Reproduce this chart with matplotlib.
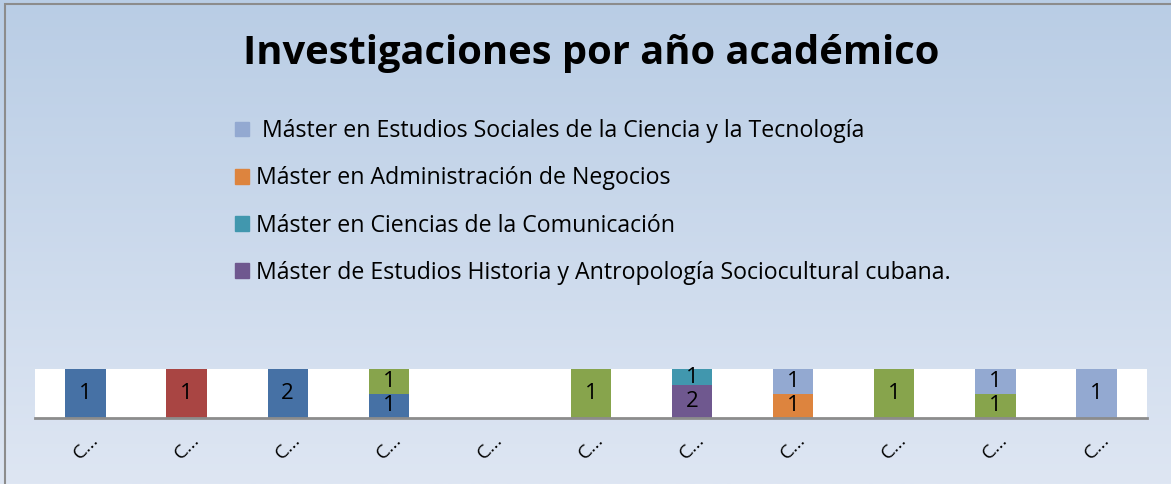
import numpy as np
import matplotlib
matplotlib.use("Agg")
import matplotlib.pyplot as plt
from matplotlib.patches import Patch, Rectangle

plt.rcParams['font.family'] = ['Open Sans', 'DejaVu Sans']

# categorias (etiquetas truncadas tal como aparecen)
categorias = ["C…"] * 11

# series (orden de apilado, de abajo hacia arriba)
serie_azul = [1, 0, 2, 1, 0, 0, 0, 0, 0, 0, 0]
serie_roja = [0, 1, 0, 0, 0, 0, 0, 0, 0, 0, 0]
serie_verde = [0, 0, 0, 1, 0, 1, 0, 0, 1, 1, 0]
historia = [0, 0, 0, 0, 0, 0, 2, 0, 0, 0, 0]
comunicacion = [0, 0, 0, 0, 0, 0, 1, 0, 0, 0, 0]
negocios = [0, 0, 0, 0, 0, 0, 0, 1, 0, 0, 0]
estudios_sociales = [0, 0, 0, 0, 0, 0, 0, 1, 0, 1, 1]

nombres = ["Serie 1", "Serie 2", "Serie 3",
           "Máster de Estudios Historia y Antropología Sociocultural cubana.",
           "Máster en Ciencias de la Comunicación",
           "Máster en Administración de Negocios",
           " Máster en Estudios Sociales de la Ciencia y la Tecnología"]
colores = ["#4671A5", "#A94543", "#87A44C", "#6F588F", "#4197AE", "#DD843E", "#93A9D1"]

series = [serie_azul, serie_roja, serie_verde, historia, comunicacion, negocios, estudios_sociales]

fig = plt.figure(figsize=(11.71, 4.84), dpi=100)

# fondo degradado
bg = fig.add_axes([0, 0, 1, 1], zorder=-10)
grad = np.linspace(0, 1, 256).reshape(-1, 1)
top = np.array([185, 205, 229]) / 255
bot = np.array([222, 230, 243]) / 255
img = top + (bot - top) * grad[:, :, None]
bg.imshow(img, aspect="auto", extent=[0, 1, 0, 1])
bg.add_patch(Rectangle((5 / 1171, -0.01), 1.2, 1.01 - 4 / 484, fill=False,
                       edgecolor="#8C8C8C", lw=1.5, transform=bg.transAxes))
bg.set_xlim(0, 1)
bg.set_ylim(0, 1)
bg.axis("off")

ax = fig.add_axes([35 / 1171, 66 / 484, 1112 / 1171, 49 / 484])
ax.set_facecolor("white")

data = np.array(series, dtype=float)
totales = data.sum(axis=0)
totales[totales == 0] = 1
pct = data / totales * 100

x = np.arange(len(categorias))
base = np.zeros(len(categorias))
for vals, p, nombre, color in zip(series, pct, nombres, colores):
    ax.bar(x, p, 0.4, bottom=base, color=color, label=nombre)
    for i in range(len(x)):
        if vals[i] > 0:
            ax.text(x[i], base[i] + p[i] / 2, str(vals[i]), ha="center", va="center",
                    fontsize=16, color="black")
    base = base + p

ax.set_xlim(-0.5, len(x) - 0.5)
ax.set_ylim(0, 100)
ax.set_yticks([])
ax.set_xticks(x)
ax.set_xticklabels(categorias, rotation=45, fontsize=14)
ax.tick_params(axis="x", length=0, pad=9)
for s in ["top", "left", "right"]:
    ax.spines[s].set_visible(False)
ax.spines["bottom"].set_color("#8C8C8C")
ax.spines["bottom"].set_linewidth(2)

fig.text(0.505, 0.89, "Investigaciones por año académico", ha="center", va="center",
         fontsize=28.7, fontweight="bold")

handles = [Patch(color=colores[k], label=nombres[k]) for k in [6, 5, 4, 3]]
fig.legend(handles=handles, loc="upper left", bbox_to_anchor=(226 / 1171, 1 - 110 / 484),
           frameon=False, fontsize=16.7, handlelength=0.6, handleheight=0.6,
           handletextpad=0.3, labelspacing=1.0, borderaxespad=0)

fig.savefig("out.png", dpi=100)
